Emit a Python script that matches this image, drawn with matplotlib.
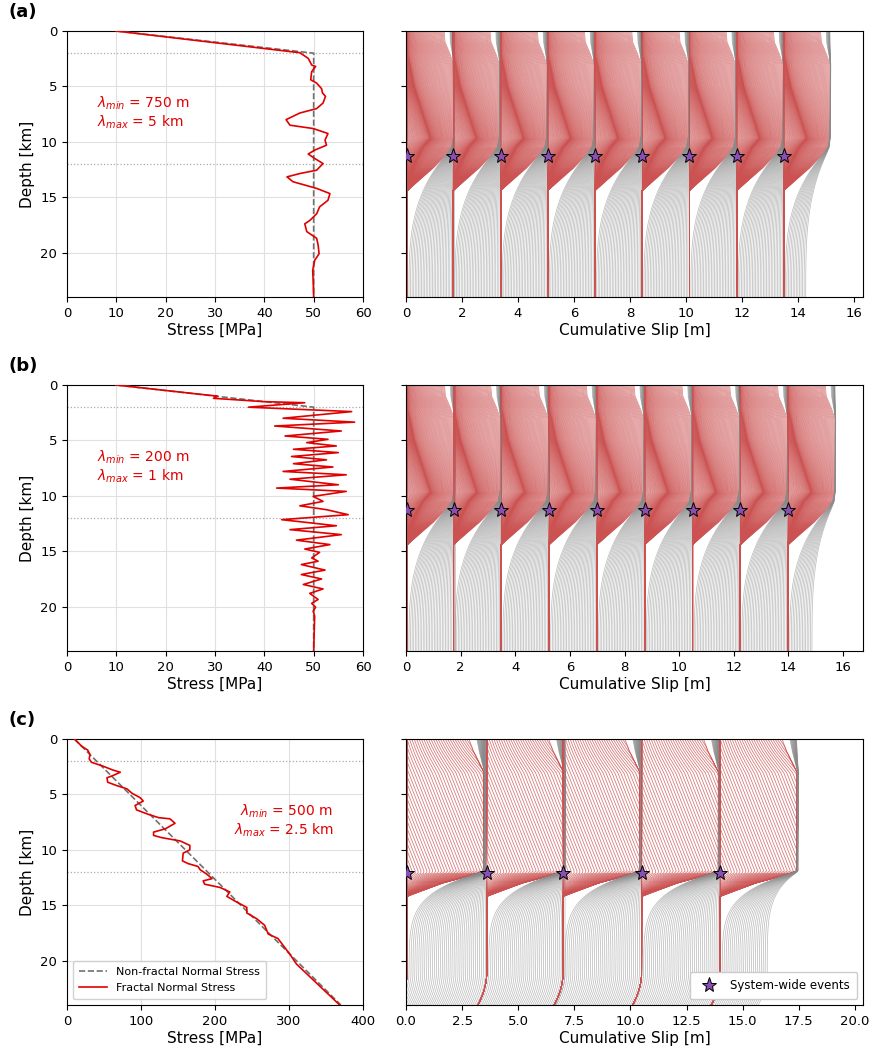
import numpy as np
import matplotlib
matplotlib.use("Agg")
import matplotlib.pyplot as plt

# ---------------- data ----------------
# Panel (a) stress profile
A_DEPTH = [0, 1.96, 2.47, 3.07, 3.2, 3.67, 4.4, 4.7, 5.2, 5.6, 5.9, 6.5, 7.0, 7.4, 8.0, 8.5,
           8.8, 9.25, 9.85, 10.3, 10.75, 11.1, 11.5, 11.96, 12.56, 12.86, 13.16, 13.6, 14.2,
           14.67, 15.27, 15.87, 16.5, 17.1, 17.4, 18.1, 18.7, 19.3, 20.1, 20.7, 21.6, 22.5, 24]
A_STRESS = [9.9, 47.2, 48.9, 49.6, 50.4, 49.6, 49.4, 50.6, 51.6, 51.8, 52.4, 51.9, 50.6, 47.2,
            44.4, 45.2, 49.9, 52.9, 52.3, 52.6, 50.2, 48.9, 50.2, 51.9, 50.6, 47.2, 44.6, 45.8,
            50.6, 53.3, 52.9, 51.2, 50.6, 49.2, 48.2, 48.6, 50.6, 50.9, 51.1, 50.2, 49.8, 49.9, 50.0]
AB_NONFRACTAL_DEPTH = [0, 2, 24]
AB_NONFRACTAL_STRESS = [10, 50, 50]

# Panel (b) stress profile
B_DEPTH = [0, 0.9, 1.0, 1.2, 1.5, 1.6, 2.0, 2.4, 3.0, 3.35, 3.7, 4.15, 4.6, 4.9, 5.2, 5.5, 5.8,
           6.1, 6.45, 6.75, 7.1, 7.4, 7.8, 8.1, 8.5, 9.0, 9.3, 9.6, 10.05, 10.5, 10.9, 11.25,
           11.7, 12.15, 12.7, 13.05, 13.5, 14.0, 14.4, 14.8, 15.1, 15.6, 15.9, 16.2, 16.7, 17.1,
           17.5, 18.0, 18.4, 18.8, 19.35, 19.7, 20.05, 20.4, 20.85, 24]
B_STRESS = [9.9, 28.3, 30.5, 29.7, 39.8, 48.2, 36.8, 57.7, 43.8, 58.3, 42.1, 55.6, 44.2, 52.9,
            48.6, 54.6, 45.9, 55.0, 45.5, 52.6, 45.9, 53.9, 43.8, 56.6, 45.2, 55.0, 42.5, 56.6,
            49.9, 51.9, 47.2, 52.6, 57.0, 43.5, 54.6, 45.2, 55.6, 46.5, 53.3, 48.2, 51.2, 49.6,
            50.9, 47.5, 52.3, 47.5, 51.6, 47.9, 51.9, 49.2, 50.9, 49.6, 50.4, 49.9, 50.2, 50.0]

# Panel (c) stress profile
C_DEPTH = [0, 0.66, 1.0, 1.4, 1.8, 2.1, 2.46, 2.8, 3.0, 3.3, 3.5, 3.9, 4.2, 4.5, 4.9, 5.3, 5.6,
           6.0, 6.4, 6.8, 7.1, 7.2, 7.6, 8.1, 8.4, 8.7, 8.9, 9.2, 9.6, 10.0, 10.3, 11.0, 11.25,
           11.5, 11.8, 12.2, 12.6, 12.8, 13.1, 13.4, 13.8, 14.2, 14.7, 15.2, 15.7, 16.2, 16.8,
           17.6, 18.0, 19.4, 20.3, 24]
C_STRESS = [10, 20, 28, 31, 30, 33, 49, 62, 72, 62, 54, 55, 67, 81, 88, 99, 103, 92, 94, 110,
            124, 139, 146, 133, 117, 117, 128, 153, 166, 166, 157, 156, 164, 177, 180, 189, 196,
            184, 186, 207, 220, 216, 229, 243, 243, 256, 267, 272, 285, 301, 310, 368.5]
C_NONFRACTAL_DEPTH = [0, 24]
C_NONFRACTAL_STRESS = [10, 370]

SEIS_TOP, SEIS_BOTTOM = 2, 12

# System-wide events (slip at hypocentre, hypocentre depth)
A_EVENTS = [0.05, 1.69, 3.38, 5.06, 6.75, 8.44, 10.12, 11.81, 13.49]
B_EVENTS = [0.05, 1.74, 3.49, 5.24, 6.99, 8.74, 10.49, 12.24, 13.99]
C_EVENTS = [0.05, 3.6, 7.0, 10.5, 14.0]
A_HYPO, B_HYPO, C_HYPO = 11.25, 11.25, 12.1

# Final coseismic slip shape (fraction of event slip) vs depth
AB_COSEIS_Z = [0, 1, 2, 3, 9.5, 10.5, 11.3, 12.3, 13.3, 14.4, 24]
AB_COSEIS_F = [0.78, 0.8, 0.9, 0.98, 0.98, 0.93, 0.79, 0.57, 0.3, 0.0, 0.0]
C_COSEIS_Z = [0, 1, 3, 11.9, 12.1, 13.0, 14.2, 24]
C_COSEIS_F = [0.79, 0.84, 0.98, 0.98, 0.91, 0.45, 0.0, 0.0]

# Rupture timing (fraction of event duration): onset, pause level, restart, rise duration
AB_RUP_Z = [0, 2, 5, 9.7, 10.5, 11.25, 14.4, 24]
AB_ONSET = [0.5, 0.35, 0.06, 0.02, 0.01, 0.0, 0.1, 0.1]
AB_PAUSE = [0.0, 0.0, 0.15, 0.5, 0.35, 0.3, 0.0, 0.0]
AB_RESTART = [0.5, 0.35, 0.4, 0.45, 0.4, 0.4, 0.1, 0.1]
AB_RISE = [0.5, 0.65, 0.6, 0.55, 0.6, 0.6, 0.9, 0.9]
C_RUP_Z = [0, 12.1, 14.2, 24]
C_ONSET = [0.41, 0.0, 0.15, 0.15]
C_PAUSE = [0.0, 0.0, 0.0, 0.0]
C_RESTART = [0.41, 0.0, 0.15, 0.15]
C_RISE = [0.59, 0.59, 0.85, 0.85]

# Post-seismic / interseismic timing: instantaneous jump fraction and timescale
AB_POST_Z = [0, 2.5, 8, 11.3, 24]
AB_JUMP = [0.5, 0.5, 0.2, 0.0, 0.0]
AB_TAU = [0.3, 0.3, 0.5, 100, 100]
C_POST_Z = [0, 2.5, 8, 12.1, 24]
C_JUMP = [0.45, 0.45, 0.2, 0.0, 0.0]
C_TAU = [0.6, 0.6, 0.6, 100, 100]

LAMBDA_TXT = {
    'a': r'$\lambda_{min}$ = 750 m' + '\n' + r'$\lambda_{max}$ = 5 km',
    'b': r'$\lambda_{min}$ = 200 m' + '\n' + r'$\lambda_{max}$ = 1 km',
    'c': r'$\lambda_{min}$ = 500 m' + '\n' + r'$\lambda_{max}$ = 2.5 km',
}

RED_LINE = '#cc5252'
GRAY_LINE = '#8a8a8a'
STAR = '#8a4fb5'

# ---------------- figure ----------------
W, H = 873, 1057
fig = plt.figure(figsize=(W / 100, H / 100), dpi=100)


def rect(x0, y0, w, h):
    return [x0 / W, 1 - (y0 + h) / H, w / W, h / H]


rows = [31, 385, 739]
axL = [fig.add_axes(rect(67, r, 296, 266)) for r in rows]
axR = [fig.add_axes(rect(406, r, 457, 266)) for r in rows]

for lbl, r in zip(['(a)', '(b)', '(c)'], rows):
    fig.text(8 / W, 1 - (r - 19) / H, lbl, fontsize=13, fontweight='bold', va='center', ha='left')


def stress_panel(ax, d_nf, s_nf, d, s, xmax, xticks, key, txt_xy, ha, legend=False):
    ax.plot(s_nf, d_nf, color='#707070', ls='--', lw=1.2, label='Non-fractal Normal Stress', zorder=3)
    ax.plot(s, d, color='#e00000', lw=1.2, label='Fractal Normal Stress', zorder=4)
    for zz in (SEIS_TOP, SEIS_BOTTOM):
        ax.axhline(zz, color='#aaaaaa', ls=':', lw=0.9, zorder=2)
    ax.set_xlim(0, xmax)
    ax.set_ylim(24, 0)
    ax.set_xticks(xticks)
    ax.set_yticks([0, 5, 10, 15, 20])
    ax.grid(True, color='#e0e0e0', lw=0.8)
    ax.set_axisbelow(True)
    ax.set_xlabel('Stress [MPa]', fontsize=11, labelpad=2)
    ax.set_ylabel('Depth [km]', fontsize=11)
    ax.tick_params(labelsize=9.5)
    ax.text(txt_xy[0], txt_xy[1], LAMBDA_TXT[key], color='#e00000', fontsize=10,
            ha=ha, va='center', linespacing=1.15)
    if legend:
        ax.legend(loc='lower left', fontsize=8, framealpha=0.9, borderpad=0.6, handlelength=2.5)


stress_panel(axL[0], AB_NONFRACTAL_DEPTH, AB_NONFRACTAL_STRESS, A_DEPTH, A_STRESS, 60,
             range(0, 61, 10), 'a', (6, 7.4), 'left')
stress_panel(axL[1], AB_NONFRACTAL_DEPTH, AB_NONFRACTAL_STRESS, B_DEPTH, B_STRESS, 60,
             range(0, 61, 10), 'b', (6, 7.4), 'left')
stress_panel(axL[2], C_NONFRACTAL_DEPTH, C_NONFRACTAL_STRESS, C_DEPTH, C_STRESS, 400,
             range(0, 401, 100), 'c', (360, 7.4), 'right', legend=True)

# ---------------- slip panels ----------------
z = np.linspace(0, 24, 481)


def ease_out(u, p):
    u = np.clip(u, 0, 1)
    return 1 - (1 - u) ** p


def ease_in(u, p):
    u = np.clip(u, 0, 1)
    return u ** p


def draw_cycles(ax, events, zh, zj, cz, cf, rz, onset, pause, restart, rise, pz, jump,
                tau_v, p_exp, n_red, n_gray, f_last, red_lw, red_alpha, ease,
                boff=0.0):
    D = float(np.mean(np.diff(events)))
    C = D * np.interp(z, cz, cf)
    I = np.where(z < zj, D - C, 0.0)
    ta = np.interp(z, rz, onset)
    a = np.interp(z, rz, pause)
    t2 = np.maximum(np.interp(z, rz, restart), ta)
    dur = np.interp(z, rz, rise)
    t1len = np.maximum(t2 - ta, 0.05)
    jmp = np.interp(z, pz, jump)
    tau = np.interp(z, pz, tau_v)
    off = -boff * np.clip((z - 21) / 3, 0, 1) ** 2
    czj = D * np.interp(zj, cz, cf)
    r = np.clip((24 - z) / (24 - zj), 0, 1) ** p_exp
    for k, x0 in enumerate(events):
        for t in np.linspace(0, 1, n_red):
            s = a * ease_out((t - ta) / t1len, ease) + (1 - a) * ease_in((t - t2) / dur, ease)
            ax.plot(x0 + C * s + off, z, color=RED_LINE, lw=red_lw, alpha=red_alpha)
        fmax = f_last if k == len(events) - 1 else 1.0
        for f in np.linspace(0, 1, n_gray + 1)[1:]:
            if f > fmax + 1e-9:
                break
            g = jmp + (1 - jmp) * (1 - np.exp(-f / tau)) / (1 - np.exp(-1 / tau))
            upper = C + I * g
            lower = np.maximum(C, f * D + (1 - f) * czj * r)
            x = np.where(z < zj, upper, lower) + x0 + off
            x[(z < zj) & (I < 1e-3 * D)] = np.nan
            ax.plot(x, z, color=GRAY_LINE, lw=0.55, alpha=0.55)
    ax.plot(events, [zh] * len(events), ls='none', marker='*', ms=11, mfc=STAR, mec='k',
            mew=0.7, zorder=20, label='System-wide events')


draw_cycles(axR[0], A_EVENTS, A_HYPO, 11.3, AB_COSEIS_Z, AB_COSEIS_F,
            AB_RUP_Z, AB_ONSET, AB_PAUSE, AB_RESTART, AB_RISE, AB_POST_Z, AB_JUMP, AB_TAU,
            3.3, 100, 30, 0.47, 0.55, 0.68, 1.4)
draw_cycles(axR[1], B_EVENTS, B_HYPO, 11.3, AB_COSEIS_Z, AB_COSEIS_F,
            AB_RUP_Z, AB_ONSET, AB_PAUSE, AB_RESTART, AB_RISE, AB_POST_Z, AB_JUMP, AB_TAU,
            3.3, 100, 30, 0.5, 0.55, 0.68, 1.4)
draw_cycles(axR[2], C_EVENTS, C_HYPO, 12.1, C_COSEIS_Z, C_COSEIS_F,
            C_RUP_Z, C_ONSET, C_PAUSE, C_RESTART, C_RISE, C_POST_Z, C_JUMP, C_TAU,
            6.5, 45, 40, 0.6, 0.6, 0.75, 1.0, boff=0.4)

for ax, xm, xt in zip(axR, [16.32, 16.73, 20.36],
                      [range(0, 17, 2), range(0, 17, 2), np.arange(0, 20.1, 2.5)]):
    ax.set_xlim(0, xm)
    ax.set_ylim(24, 0)
    ax.set_xticks(list(xt))
    ax.set_yticks([0, 5, 10, 15, 20])
    ax.set_yticklabels([])
    ax.set_xlabel('Cumulative Slip [m]', fontsize=11, labelpad=2)
    ax.tick_params(labelsize=9.5)
axR[2].set_xticklabels(['0.0', '2.5', '5.0', '7.5', '10.0', '12.5', '15.0', '17.5', '20.0'])
axR[2].legend(loc='lower right', fontsize=8.5, framealpha=1.0, borderpad=0.6)

fig.savefig('out.png', dpi=100)
